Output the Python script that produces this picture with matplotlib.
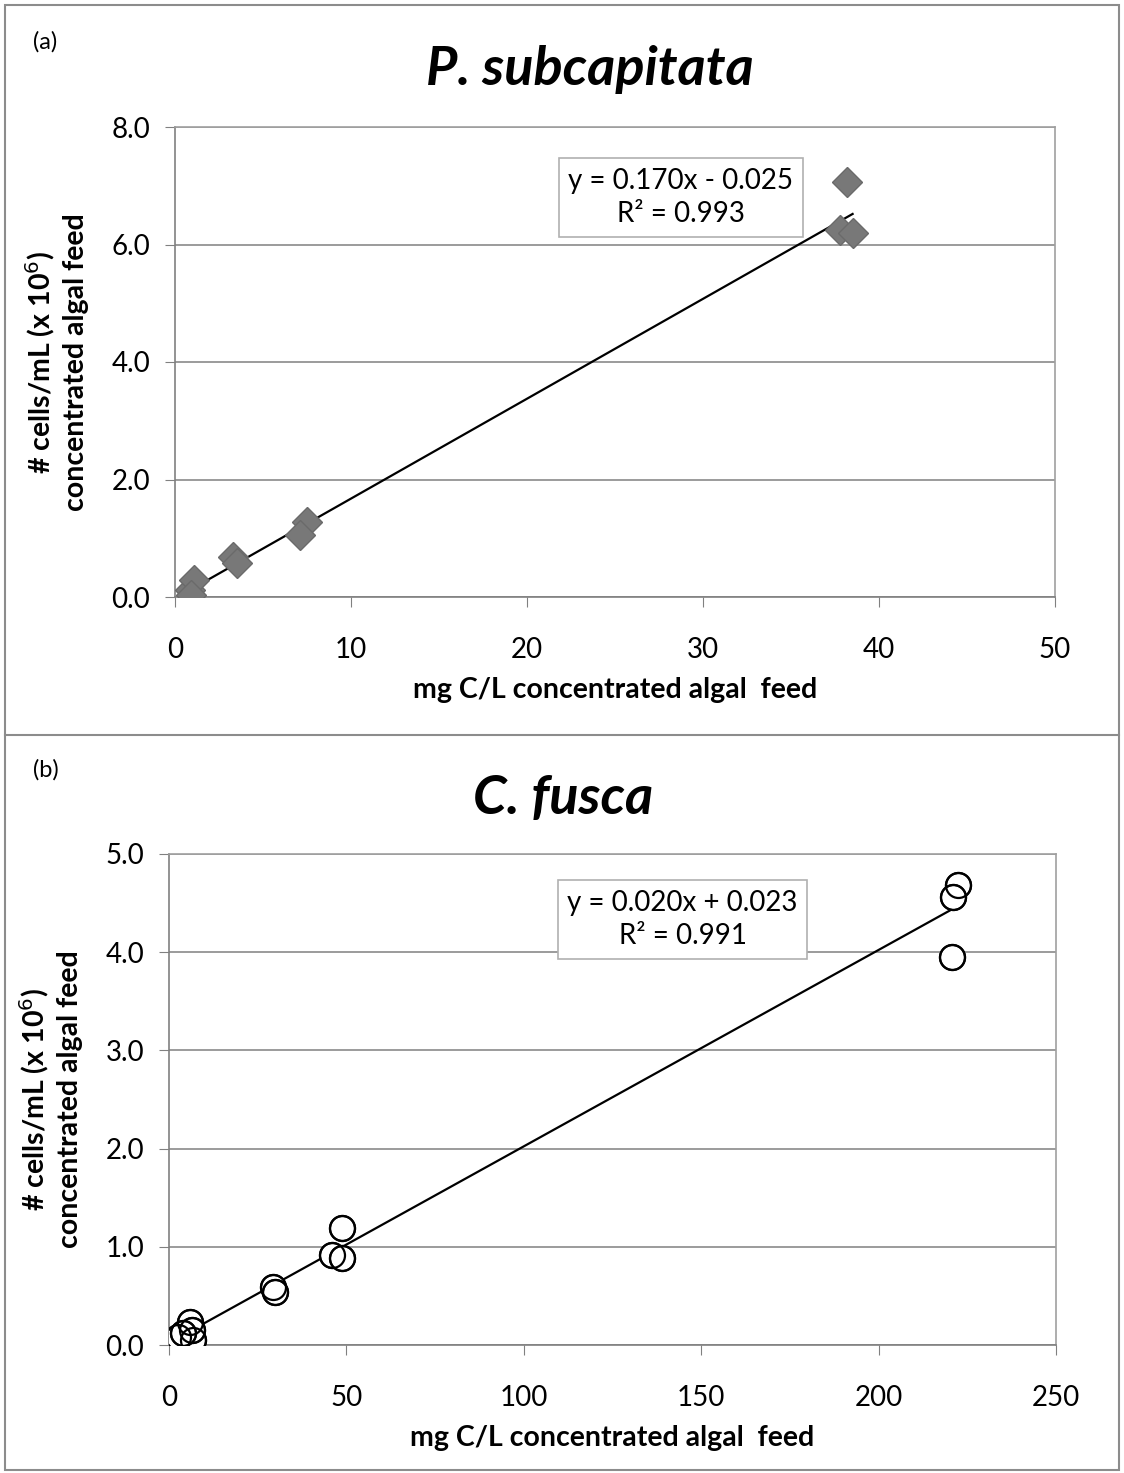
import numpy as np
import matplotlib.pyplot as plt
from matplotlib.patches import Rectangle
from matplotlib.lines import Line2D

plt.rcParams['font.family'] = ['Lato', 'DejaVu Sans']

# P. subcapitata
ps_x = [0.85, 1.1, 0.9, 3.3, 3.5, 7.5, 7.1, 38.2, 37.8, 38.5]
ps_y = [0.12, 0.29, 0.03, 0.68, 0.58, 1.28, 1.05, 7.06, 6.25, 6.2]
ps_fit = (0.170, -0.025)
ps_eq = "y = 0.170x - 0.025\nR² = 0.993"

# C. fusca
cf_x = [2.5, 6.0, 6.8, 6.5, 3.9, 29.3, 29.9, 46.0, 48.7, 48.7, 222.4, 221.0, 220.7]
cf_y = [0.08, 0.23, 0.05, 0.15, 0.12, 0.59, 0.54, 0.92, 0.89, 1.19, 4.68, 4.56, 3.95]
cf_fit = (0.020, 0.023)
cf_eq = "y = 0.020x + 0.023\nR² = 0.991"

ylab = "# cells/mL (x 10$^6$)\nconcentrated algal feed"
xlab = "mg C/L concentrated algal  feed"

fig = plt.figure(figsize=(11.24, 14.73), dpi=100)

# outer frames of both panels
fig.patches.append(Rectangle((5/1124, 3/1473), 1114/1124, 1465/1473, transform=fig.transFigure,
                             fill=False, ec="#8c8c8c", lw=1.5))
fig.lines.append(Line2D([5/1124, 1119/1124], [1 - 735/1473] * 2, transform=fig.transFigure,
                        color="#8c8c8c", lw=1.5))


def panel(rect, x, y, fit, eq, xmax, ymax, ystep, title, tag, tag_y, title_xy, eq_xy, marker):
    ax = fig.add_axes(rect)
    ax.set_xlim(0, xmax)
    ax.set_ylim(0, ymax)
    ax.set_yticks(np.arange(0, ymax + 0.01, ystep))
    ax.set_yticklabels([f"{v:.1f}" for v in np.arange(0, ymax + 0.01, ystep)])
    ax.yaxis.grid(True, color="#8a8a8a", lw=1.2)
    ax.set_axisbelow(True)
    for s in ax.spines.values():
        s.set_color("#a0a0a0")
        s.set_linewidth(1.2)
    ax.spines['left'].set_color("#808080")
    ax.spines['bottom'].set_color("#808080")
    ax.tick_params(labelsize=20, length=7, color="#808080", direction="out", pad=11)
    ax.tick_params(axis='x', pad=22)
    ax.set_xlabel(xlab, fontsize=20.5, fontweight="bold", labelpad=10)
    ax.set_ylabel(ylab, fontsize=20.5, fontweight="bold", labelpad=16, linespacing=1.3)

    xs = np.array([min(x), max(x)])
    ax.plot(xs, fit[0] * xs + fit[1], color="black", lw=1.6, zorder=3)
    if marker == "D":
        ax.plot(x, y, "D", ms=15, color="#787878", mec="#6a6a6a", zorder=4)
    else:
        ax.plot(x, y, "o", ms=18, mfc="white", mec="black", mew=1.6, zorder=4)
        ax.plot(x, y, "o", ms=18, mfc="none", mec="black", mew=1.6, zorder=5)

    ax.text(eq_xy[0], eq_xy[1], eq, transform=ax.transAxes, fontsize=20, ha="center", va="center",
            linespacing=1.35, bbox=dict(boxstyle="square,pad=0.35", fc="white", ec="#b0b0b0", lw=1.2))
    fig.text(title_xy[0] / 1124, 1 - title_xy[1] / 1473, title, fontsize=39, fontweight="bold",
             style="italic", ha="center", va="center")
    fig.text(33 / 1124, 1 - tag_y / 1473, tag, fontsize=17, ha="left", va="center")
    return ax


panel([175/1124, 1 - 597/1473, 880/1124, 470/1473], ps_x, ps_y, ps_fit, ps_eq,
      50, 8.0, 2.0, "P. subcapitata", "(a)", 42, (590, 70), (0.575, 0.850), "D")
panel([169/1124, 1 - 1345/1473, 887/1124, 491/1473], cf_x, cf_y, cf_fit, cf_eq,
      250, 5.0, 1.0, "C. fusca", "(b)", 770, (563, 798), (0.579, 0.866), "o")

fig.savefig("out.png", dpi=100)
